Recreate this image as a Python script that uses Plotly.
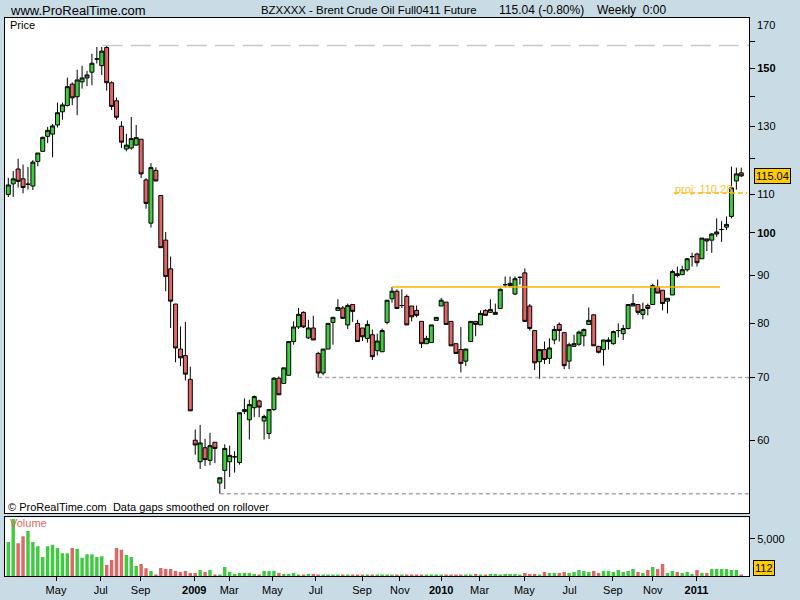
import math
import plotly.graph_objects as go

# ---------------- data (weekly Brent Crude Oil, Full0411 future) ----------------
opens = [109.9, 112.8, 117.0, 114.2, 112.7, 112.2, 119.2, 122.2, 126.8, 127.5,
         130.4, 134.7, 136.8, 144.2, 139.8, 145.0, 146.4, 148.5, 153.4, 150.9,
         157.8, 144.7, 138.4, 130.0, 122.9, 123.2, 124.1, 125.9, 113.9, 102.4,
         116.6, 109.6, 98.2, 91.5, 83.9, 75.1, 73.9, 69.7, 60.0, 56.9,
         58.9, 57.1, 59.7, 54.0, 55.7, 56.9, 57.6, 56.8, 64.4, 63.1,
         65.0, 66.1, 62.9, 61.0, 64.7, 69.9, 69.0, 70.4, 76.5, 79.3,
         82.2, 77.2, 79.1, 74.3, 70.8, 75.1, 80.2, 82.6, 83.1, 79.7,
         83.8, 80.0, 79.1, 77.1, 77.8, 74.8, 74.6, 80.2, 85.0, 86.6,
         83.6, 85.5, 83.5, 82.6, 80.4, 76.1, 76.3, 80.6, 83.5, 84.3,
         80.4, 76.1, 75.0, 72.9, 76.5, 80.4, 79.7, 82.6, 82.2, 81.8,
         83.0, 88.0, 87.8, 86.0, 89.6, 90.6, 83.5, 78.6, 72.8, 75.0,
         73.4, 76.8, 79.8, 78.2, 72.9, 75.6, 76.0, 77.6, 79.8, 81.7,
         75.6, 75.0, 76.5, 76.1, 78.6, 78.0, 79.0, 83.5, 83.8, 81.8,
         83.6, 83.8, 87.5, 86.8, 84.5, 85.8, 90.4, 90.2, 91.3, 94.3,
         94.9, 93.8, 98.5, 98.2, 99.7, 100.8, 101.4, 104.1, 113.6, 115.9]
highs = [114.5, 116.4, 120.0, 118.3, 117.6, 119.6, 121.7, 126.7, 129.8, 130.7,
         137.8, 137.8, 146.5, 144.8, 149.4, 150.9, 149.0, 155.4, 158.0, 158.0,
         158.6, 145.2, 139.5, 131.6, 127.6, 133.0, 130.4, 125.9, 114.4, 118.7,
         117.5, 109.6, 100.2, 94.3, 83.9, 79.4, 80.3, 71.9, 61.6, 62.3,
         60.2, 61.1, 59.7, 54.7, 59.4, 59.2, 58.4, 64.2, 66.5, 66.3,
         67.0, 66.3, 63.9, 64.8, 70.1, 70.2, 71.7, 76.6, 80.4, 83.1,
         82.4, 80.7, 81.5, 74.6, 75.1, 80.0, 81.2, 84.9, 83.5, 84.0,
         83.8, 80.7, 79.1, 80.6, 78.8, 78.0, 79.0, 84.7, 87.5, 87.0,
         87.0, 85.9, 83.5, 83.6, 80.4, 77.6, 79.7, 81.2, 85.2, 84.3,
         80.4, 76.1, 79.3, 75.1, 80.4, 80.4, 82.6, 82.8, 84.9, 84.0,
         87.2, 89.8, 89.8, 89.8, 89.8, 91.6, 83.9, 78.6, 75.0, 76.5,
         77.1, 79.5, 80.2, 78.2, 76.3, 77.8, 78.6, 79.0, 83.2, 81.8,
         75.6, 76.8, 77.3, 78.6, 80.0, 79.7, 83.8, 86.0, 83.8, 84.2,
         84.0, 88.2, 89.1, 86.8, 85.1, 91.3, 92.0, 92.2, 94.0, 95.2,
         95.2, 98.7, 98.5, 99.9, 103.6, 102.9, 104.1, 117.7, 117.4, 117.4]
lows = [109.2, 109.2, 111.8, 110.2, 111.2, 111.1, 117.8, 122.2, 124.7, 120.4,
        129.6, 132.1, 136.5, 136.9, 133.6, 142.6, 143.5, 143.8, 151.7, 147.5,
        141.9, 135.3, 132.1, 123.2, 122.2, 122.7, 123.9, 114.4, 106.1, 101.3,
        113.6, 96.4, 86.6, 79.1, 72.7, 72.0, 69.5, 64.5, 57.9, 55.9,
        56.3, 56.4, 56.7, 52.6, 53.2, 54.8, 55.4, 56.5, 64.0, 60.1,
        63.5, 63.5, 60.1, 60.2, 64.5, 67.1, 68.9, 70.4, 75.9, 78.9,
        79.1, 77.0, 76.8, 70.0, 70.4, 75.1, 75.9, 82.6, 81.0, 78.9,
        80.3, 76.5, 76.6, 76.3, 73.1, 73.9, 74.6, 79.8, 84.2, 83.0,
        83.1, 79.7, 80.4, 81.2, 75.3, 76.1, 76.3, 80.6, 83.5, 79.8,
        75.7, 74.3, 70.9, 72.0, 76.5, 77.5, 79.7, 81.6, 82.2, 81.8,
        83.0, 87.4, 87.4, 85.8, 88.0, 80.4, 78.6, 71.3, 69.8, 72.4,
        72.4, 76.0, 76.5, 71.5, 71.5, 75.6, 75.7, 75.6, 79.8, 75.7,
        74.3, 72.1, 75.0, 75.9, 77.3, 76.8, 78.8, 83.5, 81.7, 80.8,
        81.6, 83.8, 86.2, 82.6, 82.0, 85.8, 89.6, 90.2, 90.9, 92.0,
        92.0, 93.8, 95.6, 95.2, 99.0, 97.8, 100.7, 103.6, 111.2, 114.7]
closes = [112.5, 114.2, 113.5, 111.8, 112.7, 119.0, 121.7, 126.5, 128.7, 130.1,
          134.4, 137.0, 143.3, 139.4, 145.7, 146.4, 147.5, 151.8, 153.4, 156.4,
          144.7, 136.5, 132.9, 125.0, 124.1, 126.1, 126.4, 115.6, 107.5, 117.4,
          113.6, 96.4, 89.8, 84.5, 75.3, 73.5, 70.6, 64.5, 59.3, 59.6,
          57.2, 59.2, 58.8, 54.7, 58.8, 57.8, 57.6, 64.2, 64.7, 65.5,
          66.8, 65.1, 63.6, 64.7, 69.9, 67.1, 71.7, 76.5, 79.3, 81.8,
          79.3, 79.1, 76.8, 70.8, 75.1, 80.0, 81.2, 83.2, 81.0, 83.6,
          82.4, 76.5, 77.4, 79.8, 73.7, 76.6, 78.6, 84.7, 86.6, 83.0,
          83.6, 79.7, 81.3, 81.6, 76.1, 77.1, 79.7, 81.2, 84.7, 79.8,
          75.7, 74.3, 72.5, 75.1, 80.4, 79.8, 82.0, 81.6, 82.8, 82.2,
          87.0, 88.0, 88.3, 89.3, 89.6, 80.4, 79.0, 72.6, 75.0, 73.2,
          75.3, 78.8, 78.6, 72.1, 75.9, 76.1, 78.3, 78.8, 80.6, 75.7,
          74.5, 76.8, 76.8, 78.4, 78.6, 79.0, 83.8, 84.0, 82.2, 82.8,
          83.0, 87.8, 86.2, 84.0, 85.1, 90.9, 90.0, 91.3, 93.8, 94.3,
          92.9, 98.7, 98.0, 99.7, 100.2, 100.8, 102.1, 111.7, 115.6, 115.04]
volumes = [4600, 7690, 4430, 5360, 6080, 4600, 4020, 2550, 4020, 4200,
           3760, 3080, 3080, 3760, 3670, 2460, 2950, 2950, 2550, 2680,
           1480, 2150, 3760, 3530, 2820, 2550, 1340, 1610, 1030, 670,
           130, 1070, 940, 940, 670, 540, 670, 400, 400, 800,
           540, 800, 130, 130, 1210, 540, 270, 400, 400, 400,
           270, 130, 670, 670, 670, 400, 270, 270, 400, 130,
           130, 270, 270, 130, 120, 110, 120, 100, 110, 120,
           110, 100, 110, 120, 110, 100, 110, 120, 100, 110,
           120, 110, 100, 120, 110, 100, 110, 120, 130, 120,
           110, 120, 130, 120, 130, 270, 130, 130, 270, 270,
           130, 270, 270, 270, 130, 400, 270, 270, 130, 540,
           400, 400, 400, 540, 400, 540, 800, 670, 540, 670,
           400, 670, 670, 540, 800, 540, 670, 940, 540, 400,
           800, 1210, 940, 1610, 400, 670, 540, 400, 540, 270,
           800, 400, 400, 940, 940, 940, 940, 800, 800, 112]

tick_pos = [9.7, 18.8, 26.9, 37.8, 44.9, 53.7, 62.5, 71.9, 79.6, 88.0,
            95.8, 104.9, 114.1, 122.9, 131.0, 139.9]
tick_labels = ["May", "Jul", "Sep", "<b>2009</b>", "Mar", "May", "Jul", "Sep", "Nov",
               "<b>2010</b>", "Mar", "May", "Jul", "Sep", "Nov", "<b>2011</b>"]
price_ticks = [60, 70, 80, 90, 100, 110, 120, 130, 140, 150, 160, 170]
price_tick_text = ["60", "70", "80", "90", "<b>100</b>", "110", "", "130", "", "<b>150</b>", "", "170"]

resistance = 87.5      # orange horizontal line
support = 70.0         # grey dotted support
projection = 110.28    # projected target
last_close = 115.04
last_volume = 112

# ---------------- layout helpers ----------------
W, H = 800, 600
L, R, T, B = 4, 51, 18, 20
PW, PH = W - L - R, H - T - B
def px(xp):
    return (xp - L) / PW
def py(yp):
    return 1 - (yp - T) / PH

GREEN = "#3FCB3F"
RED = "#E06666"
BG = "#C9DCE6"
ORANGE = "#FFB400"
FONT = "Liberation Sans, Arial, sans-serif"

n = len(closes)
idx = list(range(n))
xmin, xmax = -0.67, 150.57

vol_colors = [GREEN if c >= o else RED for o, c in zip(opens, closes)]

fig = go.Figure()
fig.add_trace(go.Candlestick(
    x=idx, open=opens, high=highs, low=lows, close=closes,
    xaxis="x", yaxis="y", whiskerwidth=0,
    increasing=dict(fillcolor=GREEN, line=dict(color="black", width=1)),
    decreasing=dict(fillcolor=RED, line=dict(color="black", width=1)),
    showlegend=False, hoverinfo="skip"))
fig.add_trace(go.Bar(
    x=idx, y=volumes, xaxis="x2", yaxis="y2",
    marker=dict(color=vol_colors, line=dict(width=0)),
    showlegend=False, hoverinfo="skip"))

p_lo, p_hi = 50.1, 169.7
fig.update_layout(
    width=W, height=H,
    margin=dict(l=L, r=R, t=T, b=B, pad=0),
    paper_bgcolor=BG, plot_bgcolor="white",
    boxgap=0.1, boxgroupgap=0.1, bargap=0.3,
    font=dict(family=FONT, size=11, color="black"),
    xaxis=dict(domain=[0, 1], anchor="y", range=[xmin, xmax], showticklabels=False,
               ticks="", showgrid=False, zeroline=False, showline=True, mirror=True,
               linecolor="black", linewidth=1, rangeslider=dict(visible=False)),
    yaxis=dict(domain=[(H - B - 517) / PH, 1], anchor="x", type="log",
               range=[math.log10(p_lo), math.log10(p_hi)], side="right",
               tickvals=price_ticks, ticktext=price_tick_text, ticks="outside",
               ticklen=5, tickcolor="black", showgrid=False, zeroline=False,
               showline=True, mirror=True, linecolor="black", linewidth=1,
               tickfont=dict(size=11, family=FONT, color="black")),
    xaxis2=dict(domain=[0, 1], anchor="y2", range=[xmin, xmax],
                tickvals=tick_pos, ticktext=tick_labels, ticks="outside", ticklen=4,
                tickcolor="black", showgrid=False, zeroline=False, showline=True,
                mirror=True, linecolor="black", linewidth=1,
                tickfont=dict(size=11, family=FONT, color="black")),
    yaxis2=dict(domain=[0, (580 - 521) / PH], anchor="x2", range=[0, 7900],
                side="right", tickvals=[5000], ticktext=["5,000"], ticks="outside",
                ticklen=5, tickcolor="black", showgrid=False, zeroline=False,
                showline=True, mirror=True, linecolor="black", linewidth=1,
                tickfont=dict(size=11, family=FONT, color="black")),
)

peak = max(highs)
bottom = min(lows)
shapes = [
    dict(type="line", xref="x", yref="y", x0=19.2, x1=xmax, y0=peak, y1=peak,
         line=dict(color="#C8C8C8", width=1.5, dash="20px,8px")),
    dict(type="line", xref="x", yref="y", x0=63, x1=xmax, y0=support, y1=support,
         line=dict(color="#A8A8A8", width=1.5, dash="4px,3px")),
    dict(type="line", xref="x", yref="y", x0=43, x1=xmax, y0=bottom, y1=bottom,
         line=dict(color="#A8A8A8", width=1.5, dash="4px,3px")),
    dict(type="line", xref="x", yref="y", x0=78, x1=144.7, y0=resistance, y1=resistance,
         line=dict(color=ORANGE, width=1.5)),
    dict(type="line", xref="x", yref="y", x0=135.3, x1=150.2, y0=projection, y1=projection,
         line=dict(color=ORANGE, width=1.5, dash="5px,3px")),
]
fig.update_layout(shapes=shapes)

def ann(text, xp, yp, size=11, color="black", family=FONT, **kw):
    d = dict(text=text, xref="paper", yref="paper", x=px(xp), y=py(yp),
             xanchor="left", yanchor="middle", showarrow=False,
             font=dict(size=size, color=color, family=family))
    d.update(kw)
    return d

annotations = [
    ann("www.ProRealTime.com", 7, 10, size=13),
    ann("BZXXXX - Brent Crude Oil Full0411 Future", 258, 10, size=11.4),
    ann("115.04 (-0.80%)", 497, 10, size=12),
    ann("Weekly  0:00", 595, 10, size=12),
    ann("Price", 7, 25),
    ann("\u00a9 ProRealTime.com  Data gaps smoothed on rollover", 5, 511),
    ann("Volume", 7, 527, color=RED),
    ann("proj: 110.28", 673, 190, color="#FFC030"),
    ann("170", 755, 25),
    dict(text="%.2f" % last_close, xref="paper", yref="y", x=px(754),
         y=math.log10(last_close), xanchor="left", yanchor="middle", showarrow=False,
         bgcolor="#FFCC00", bordercolor="black", borderwidth=1, borderpad=1,
         font=dict(size=11, color="black", family=FONT)),
    ann(str(last_volume), 753, 572, bgcolor="#FFCC00", bordercolor="black",
        borderwidth=1, borderpad=1),
]
fig.update_layout(annotations=annotations)

fig.write_html("out.html", config=dict(displayModeBar=False),
               post_script="document.body.style.margin='0';document.body.style.overflow='hidden';")
